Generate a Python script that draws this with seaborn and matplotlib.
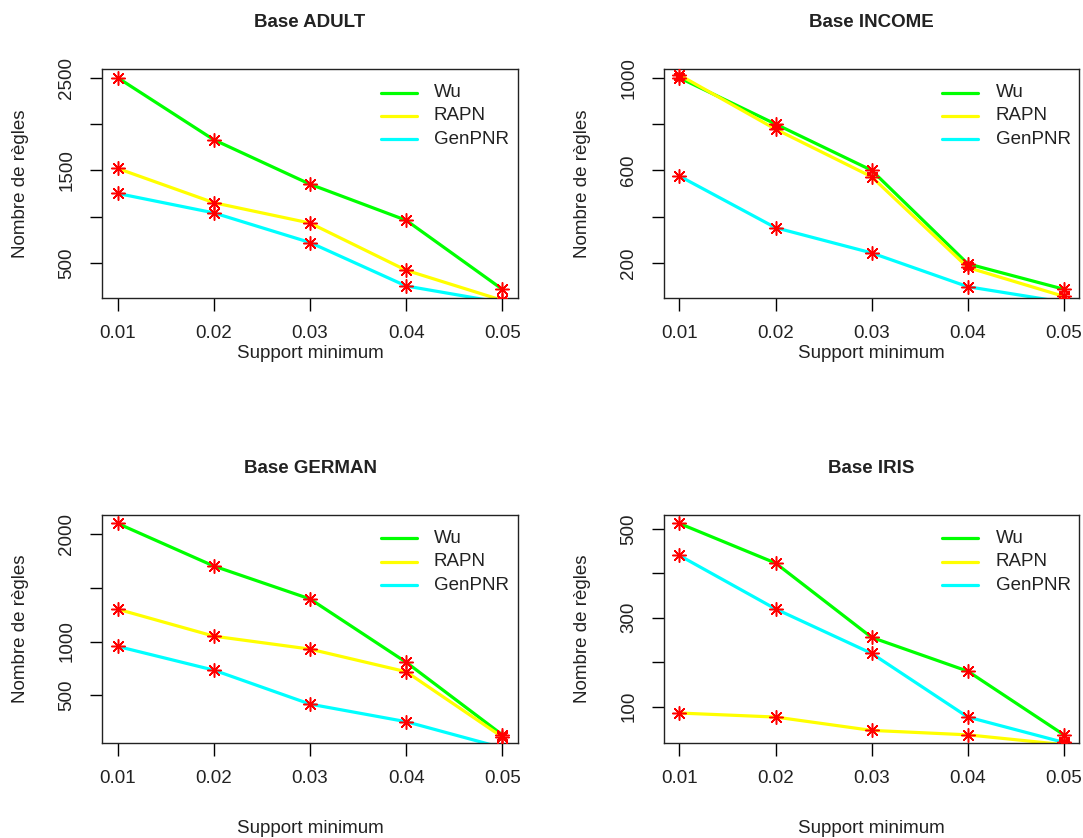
import numpy as np
import pandas as pd
import matplotlib
matplotlib.use("Agg")
import matplotlib.pyplot as plt
import seaborn as sns

# Data
support = [0.01, 0.02, 0.03, 0.04, 0.05]
algos = ["Wu", "RAPN", "GenPNR"]
colors = ["#00FF00", "#FFFF00", "#00FFFF"]

adult_wu = [2500, 1830, 1350, 960, 215]
adult_rapn = [1520, 1150, 930, 420, 95]
adult_gen = [1250, 1040, 720, 250, 70]

income_wu = [1000, 800, 600, 196, 86]
income_rapn = [1012, 778, 572, 180, 55]
income_gen = [575, 352, 243, 97, 30]

german_wu = [2095, 1700, 1395, 808, 135]
german_rapn = [1300, 1050, 930, 720, 115]
german_gen = [955, 735, 420, 257, 15]

iris_wu = [512, 423, 256, 180, 37]
iris_rapn = [86, 77, 47, 37, 15]
iris_gen = [440, 320, 220, 77, 20]

titles = ["Base ADULT", "Base INCOME", "Base GERMAN", "Base IRIS"]
yticks = [[500, 1000, 1500, 2000, 2500],
          [200, 400, 600, 800, 1000],
          [500, 1000, 1500, 2000],
          [100, 200, 300, 400, 500]]
ytick_labels = [["500", "", "1500", "", "2500"],
                ["200", "", "600", "", "1000"],
                ["500", "1000", "", "2000"],
                ["100", "", "300", "", "500"]]
xtick_labels = ["0.01", "0.02", "0.03", "0.04", "0.05"]

series = [(adult_wu, adult_rapn, adult_gen),
          (income_wu, income_rapn, income_gen),
          (german_wu, german_rapn, german_gen),
          (iris_wu, iris_rapn, iris_gen)]

sns.set_theme(style="white")
plt.rcParams["font.family"] = ["Liberation Sans", "DejaVu Sans"]
plt.rcParams["axes.edgecolor"] = "black"
plt.rcParams["axes.linewidth"] = 1.0

W, H = 1083, 838
fig = plt.figure(figsize=(W / 100, H / 100), dpi=100)

# box positions in pixels (left, top, right, bottom)
boxes = [(102.3, 69.3, 517.7, 297.7),
         (664.0, 69.3, 1079.3, 297.7),
         (102.3, 515.0, 517.7, 743.3),
         (664.0, 515.0, 1079.3, 743.3)]
xlabel_off = [55.3, 55.3, 84.7, 84.7]
fs = 13.5

for i, (l, t, r, b) in enumerate(boxes):
    ax = fig.add_axes([l / W, 1 - b / H, (r - l) / W, (b - t) / H])
    wu, rapn, gen = series[i]
    df = pd.DataFrame({
        "support": support * 3,
        "regles": wu + rapn + gen,
        "algo": ["Wu"] * 5 + ["RAPN"] * 5 + ["GenPNR"] * 5,
    })
    sns.lineplot(data=df, x="support", y="regles", hue="algo", hue_order=algos,
                 palette=colors, lw=2.3, ax=ax, legend=False, sort=False)
    sns.scatterplot(data=df, x="support", y="regles", color="red",
                    marker=(8, 2, 0), s=95, linewidth=1.1, ax=ax, zorder=5)

    # R style limits: range of first series +4%
    lo, hi = min(wu), max(wu)
    ext = 0.04 * (hi - lo)
    ax.set_ylim(lo - ext, hi + ext)
    xext = 0.04 * (support[-1] - support[0])
    ax.set_xlim(support[0] - xext, support[-1] + xext)

    ax.set_xticks(support)
    ax.set_xticklabels(xtick_labels)
    ax.set_yticks(yticks[i])
    ax.set_yticklabels(ytick_labels[i])
    ax.tick_params(axis="both", direction="out", length=9, width=1.0,
                   color="black", labelsize=fs, pad=10.3,
                   bottom=True, left=True, labelcolor="#222222")
    ax.tick_params(axis="y", labelrotation=90)
    for lab in ax.get_yticklabels():
        lab.set_va("center")
    ax.set_xlabel("")
    ax.set_ylabel("")
    for sp in ax.spines.values():
        sp.set_visible(True)
        sp.set_color("#222222")

    # legend (R topright, no box)
    for k, (name, c) in enumerate(zip(algos, colors)):
        yy = 1 - (23.4 + 23.3 * k) / (b - t)
        ax.plot([0.670, 0.757], [yy, yy], color=c, lw=2.3,
                transform=ax.transAxes, clip_on=False)
        ax.text(0.7985, yy, name, transform=ax.transAxes, fontsize=fs,
                va="center", ha="left", color="#222222")

    cx = (l + r) / 2
    fig.text(cx / W, 1 - (t - 46.8) / H, titles[i], ha="center", va="center",
             fontsize=fs, fontweight="bold", color="#222222")
    fig.text(cx / W, 1 - (b + xlabel_off[i]) / H, "Support minimum",
             ha="center", va="center", fontsize=fs, color="#222222")
    fig.text((l - 81.5) / W, 1 - ((t + b) / 2) / H, "Nombre de règles",
             ha="center", va="center", rotation=90, fontsize=fs, color="#222222")

fig.savefig("out.png", dpi=100)
